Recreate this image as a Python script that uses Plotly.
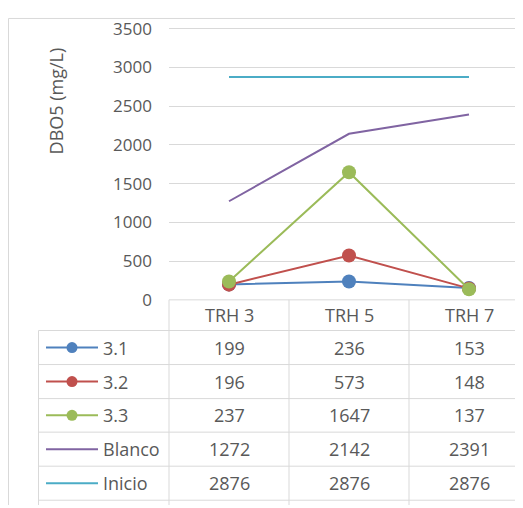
import plotly.graph_objects as go

# ---- data ----
categories = ["TRH 3", "TRH 5", "TRH 7"]
series_names = ["3.1", "3.2", "3.3", "Blanco", "Inicio"]
s31 = [199, 236, 153]
s32 = [196, 573, 148]
s33 = [237, 1647, 137]
blanco = [1272, 2142, 2391]
inicio = [2876, 2876, 2876]
y_ticks = [0, 500, 1000, 1500, 2000, 2500, 3000, 3500]
y_title = "DBO5 (mg/L)"

series_values = [s31, s32, s33, blanco, inicio]
colors = ["#4F81BD", "#C0504D", "#9BBB59", "#8064A2", "#4BACC6"]
has_marker = [True, True, True, False, False]

W, H = 523, 508
OFF = 8  # page body margin: figure origin sits at screen (8, 8)
FONT = "Open Sans, Lato, sans-serif"
TXT = "#595959"
GRID = "#D9D9D9"


def px(x):
    """screen x -> paper x"""
    return (x - OFF) / W


def py(y):
    """screen y -> paper y"""
    return 1 - (y - OFF) / H


fig = go.Figure()

for name, vals, col, mk in zip(series_names, series_values, colors, has_marker):
    fig.add_trace(go.Scatter(
        x=categories, y=vals, name=name,
        mode="lines+markers" if mk else "lines",
        line=dict(color=col, width=2),
        marker=dict(size=14, color=col),
        showlegend=False, xaxis="x", yaxis="y",
    ))

# table geometry (screen pixels)
col_edges = [169, 289, 409, 529]
row_edges = [302, 334, 369.5, 405, 440, 475.5, 511]
first_left = 38.5

shapes = []
line_style = dict(color=GRID, width=1)
# outer chart border (as close to the page edge as the figure allows)
shapes.append(dict(type="line", xref="paper", yref="paper", x0=px(8.5), x1=1, y0=py(8.5), y1=py(8.5), line=line_style))
shapes.append(dict(type="line", xref="paper", yref="paper", x0=px(8.5), x1=px(8.5), y0=py(8.5), y1=0, line=line_style))
# header top line
shapes.append(dict(type="line", xref="paper", yref="paper", x0=px(col_edges[0]), x1=1,
                   y0=py(row_edges[0]), y1=py(row_edges[0]), line=line_style))
# other horizontal lines
for r in row_edges[1:]:
    shapes.append(dict(type="line", xref="paper", yref="paper", x0=px(first_left), x1=1,
                       y0=py(r), y1=py(r), line=line_style))
# vertical lines
shapes.append(dict(type="line", xref="paper", yref="paper", x0=px(first_left), x1=px(first_left),
                   y0=py(row_edges[1]), y1=0, line=line_style))
for c in col_edges[:-1]:
    shapes.append(dict(type="line", xref="paper", yref="paper", x0=px(c), x1=px(c),
                       y0=py(row_edges[0]), y1=0, line=line_style))

annotations = []
# header
for i, cat in enumerate(categories):
    cx = (col_edges[i] + col_edges[i + 1]) / 2
    cy = (row_edges[0] + row_edges[1]) / 2
    annotations.append(dict(xref="paper", yref="paper", x=px(cx), y=py(cy), text=cat, showarrow=False,
                            xanchor="center", yanchor="middle", font=dict(family=FONT, size=18, color=TXT)))
# rows
for r, (name, vals, col, mk) in enumerate(zip(series_names, series_values, colors, has_marker)):
    cy = (row_edges[r + 1] + row_edges[r + 2]) / 2
    annotations.append(dict(xref="paper", yref="paper", x=px(101), y=py(cy), text=name, showarrow=False,
                            xanchor="left", yanchor="middle", font=dict(family=FONT, size=18, color=TXT)))
    for i, v in enumerate(vals):
        cx = (col_edges[i] + col_edges[i + 1]) / 2
        annotations.append(dict(xref="paper", yref="paper", x=px(cx), y=py(cy), text=str(v), showarrow=False,
                                xanchor="center", yanchor="middle", font=dict(family=FONT, size=18, color=TXT)))
    # legend key glyph, drawn on a screen-pixel overlay axis
    fig.add_trace(go.Scatter(x=[46, 98], y=[cy, cy], mode="lines", line=dict(color=col, width=2),
                             showlegend=False, hoverinfo="skip", xaxis="x2", yaxis="y2"))
    if mk:
        fig.add_trace(go.Scatter(x=[72], y=[cy], mode="markers", marker=dict(size=11, color=col),
                                 showlegend=False, hoverinfo="skip", xaxis="x2", yaxis="y2"))

# y axis title
annotations.append(dict(xref="paper", yref="paper", x=px(56), y=py(95), text=y_title, textangle=-90,
                        showarrow=False, xanchor="center", yanchor="middle",
                        font=dict(family=FONT, size=18, color=TXT)))

# plot area: 0 at screen y=302, 3500 at screen y=19; add headroom so plotly keeps the top gridline
pix_per_unit = (302 - 19) / y_ticks[-1]
head = 25
y_top = y_ticks[-1] + head
fig.update_layout(
    width=W, height=H,
    margin=dict(l=0, r=0, t=0, b=0, pad=0),
    paper_bgcolor="white", plot_bgcolor="rgba(0,0,0,0)",
    showlegend=False,
    xaxis=dict(domain=[px(169), 1], range=[-0.5, -0.5 + (W + OFF - 169) / 120], showgrid=False,
               showticklabels=False, zeroline=False, showline=False, fixedrange=True),
    yaxis=dict(domain=[py(302), py(19 - head * pix_per_unit)], range=[0, y_top], tickvals=y_ticks,
               showgrid=True, gridcolor=GRID, gridwidth=1, zeroline=False, showline=False,
               tickfont=dict(family=FONT, size=17, color=TXT), ticklabelstandoff=16,
               ticklabeloverflow="allow"),
    xaxis2=dict(domain=[0, 1], range=[OFF, OFF + W], visible=False, anchor="y2", fixedrange=True),
    yaxis2=dict(domain=[0, 1], range=[OFF + H, OFF], visible=False, anchor="x2", fixedrange=True),
    shapes=shapes, annotations=annotations,
)

fig.write_html("out.html")
